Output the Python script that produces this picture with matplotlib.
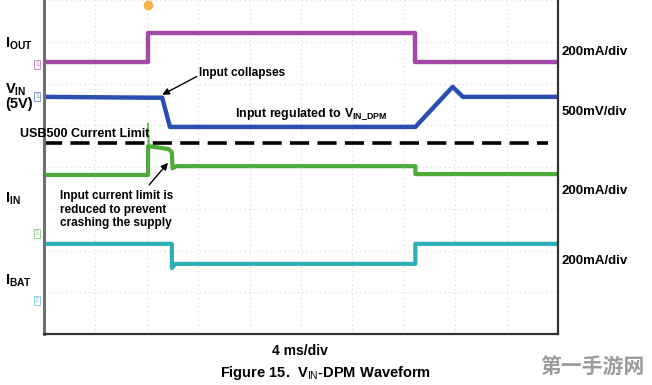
"""V_IN-DPM waveform: scope screenshot redrawn with matplotlib."""
import matplotlib
matplotlib.use("Agg")
import matplotlib.pyplot as plt

plt.rcParams["font.family"] = ["Liberation Sans", "DejaVu Sans"]
plt.rcParams["mathtext.fontset"] = "custom"
plt.rcParams["mathtext.rm"] = "Liberation Sans"
plt.rcParams["mathtext.bf"] = "Liberation Sans:bold"

# time in ms (4 ms/div, 10 div), level in screen divisions (8 div)
iout_t = [0, 8.1, 8.1, 28.9, 28.9, 40]
iout_y = [6.51, 6.51, 7.21, 7.21, 6.51, 6.51]

vin_t = [0, 8.2, 9.2, 9.8, 28.9, 31.8, 32.6, 40]
vin_y = [5.68, 5.66, 5.66, 4.96, 4.96, 5.92, 5.68, 5.68]

iin_t = [0, 8.1, 8.1, 9.7, 9.95, 10.0, 10.3, 28.9, 28.9, 40]
iin_y = [3.81, 3.81, 4.50, 4.43, 4.35, 3.97, 4.02, 4.02, 3.83, 3.83]
iin_spike_t = [8.1, 8.1, 8.2]
iin_spike_y = [4.4, 5.05, 4.5]

ibat_t = [0, 9.95, 9.95, 10.2, 28.9, 28.9, 40]
ibat_y = [2.16, 2.16, 1.58, 1.68, 1.68, 2.16, 2.16]

usb500_limit = 4.57

left_labels = [(r"$\mathbf{I_{OUT}}$", 6.95), (r"$\mathbf{V_{IN}}$", 5.86),
               ("(5V)", 5.52), (r"$\mathbf{I_{IN}}$", 3.25), (r"$\mathbf{I_{BAT}}$", 1.28)]
right_labels = [("200mA/div", 6.75), ("500mV/div", 5.32),
                ("200mA/div", 3.43), ("200mA/div", 1.75)]
channels = [("1", 6.45, "#c080c8"), ("1", 5.69, "#6f8fd8"),
            ("3", 2.40, "#8cc48c"), ("2", 0.80, "#80c8d0")]

fig = plt.figure(figsize=(6.52, 3.85), dpi=100)
ax = fig.add_axes([44 / 652, 51 / 385, 514 / 652, 334 / 385])
ax.set_xlim(0, 40)
ax.set_ylim(0, 8)
ax.set_xticks(range(0, 41, 4))
ax.set_yticks(range(0, 9))
ax.tick_params(length=0, labelbottom=False, labelleft=False)
ax.grid(True, color="#d8d8d8", linestyle=(0, (1, 3)), linewidth=0.8)
ax.spines["top"].set_visible(False)
for side in ("left", "bottom", "right"):
    ax.spines[side].set_color("#333333")
    ax.spines[side].set_linewidth(1.6)
ax.spines["left"].set_color("#707070")
ax.spines["left"].set_linewidth(2.2)

ax.plot(iout_t, iout_y, color="#a24aa8", lw=3.2)
ax.plot(vin_t, vin_y, color="#2a4fb0", lw=3.2)
ax.plot(iin_spike_t, iin_spike_y, color="#6cc060", lw=1.0)
ax.plot(iin_t, iin_y, color="#4faa3c", lw=3.0)
ax.plot(ibat_t, ibat_y, color="#2bb0b8", lw=3.0)
ax.plot([-0.1, 39.2], [usb500_limit] * 2, color="black", lw=2.6,
        dashes=(5.3, 2.3), clip_on=False)

# trigger marker
ax.plot([8.1], [7.88], "o", color="#f5a623", ms=6, alpha=0.8, clip_on=False)

for txt, y, col in channels:
    ax.text(-0.55, y, txt, color=col, fontsize=5, ha="center", va="center",
            bbox=dict(boxstyle="square,pad=0.15", fc="white", ec=col, lw=0.6),
            clip_on=False)

for txt, y in left_labels:
    ax.text(-3.0, y, txt, fontsize=10.5, fontweight="bold", ha="left", va="center",
            clip_on=False)
ax.text(-1.85, 4.8, "USB500 Current Limit", fontsize=9, fontweight="bold",
        ha="left", va="center", clip_on=False)
for txt, y in right_labels:
    ax.text(40.3, y, txt, fontsize=9.5, fontweight="bold", ha="left", va="center",
            clip_on=False)

ax.annotate("Input collapses", xy=(9.2, 5.73), xytext=(12.1, 6.26),
            fontsize=8.5, fontweight="bold", ha="left", va="center",
            arrowprops=dict(arrowstyle="-|>", color="black", lw=1.0,
                            shrinkA=0, shrinkB=0, mutation_scale=10,
                            relpos=(0, 0.3)))
ax.text(14.9, 5.27, r"Input regulated to $\mathbf{V_{IN\_DPM}}$", fontsize=9,
        fontweight="bold", ha="left", va="center")
ax.annotate("Input current limit is\nreduced to prevent\ncrashing the supply",
            xy=(9.65, 4.1), xytext=(1.25, 2.98), fontsize=8.5, fontweight="bold",
            ha="left", va="center", linespacing=1.2,
            arrowprops=dict(arrowstyle="-|>", color="black", lw=1.0,
                            shrinkA=2, shrinkB=0, mutation_scale=10,
                            relpos=(0.75, 1.0)))

fig.text(300 / 652, 1 - 351 / 385, "4 ms/div", fontsize=10, fontweight="bold",
         ha="center", va="center")
fig.text(220 / 652, 1 - 373 / 385, r"Figure 15.  V$_{\mathrm{IN}}$-DPM Waveform",
         fontsize=10.5, fontweight="bold", ha="left", va="center")
fig.text(645 / 652, 1 - 366 / 385, "第一手游网", fontsize=15, fontweight="bold",
         color="#7a7a7a", alpha=0.75, ha="right", va="center",
         family=["Noto Sans CJK SC", "DejaVu Sans"])

fig.savefig("out.png", dpi=100)
